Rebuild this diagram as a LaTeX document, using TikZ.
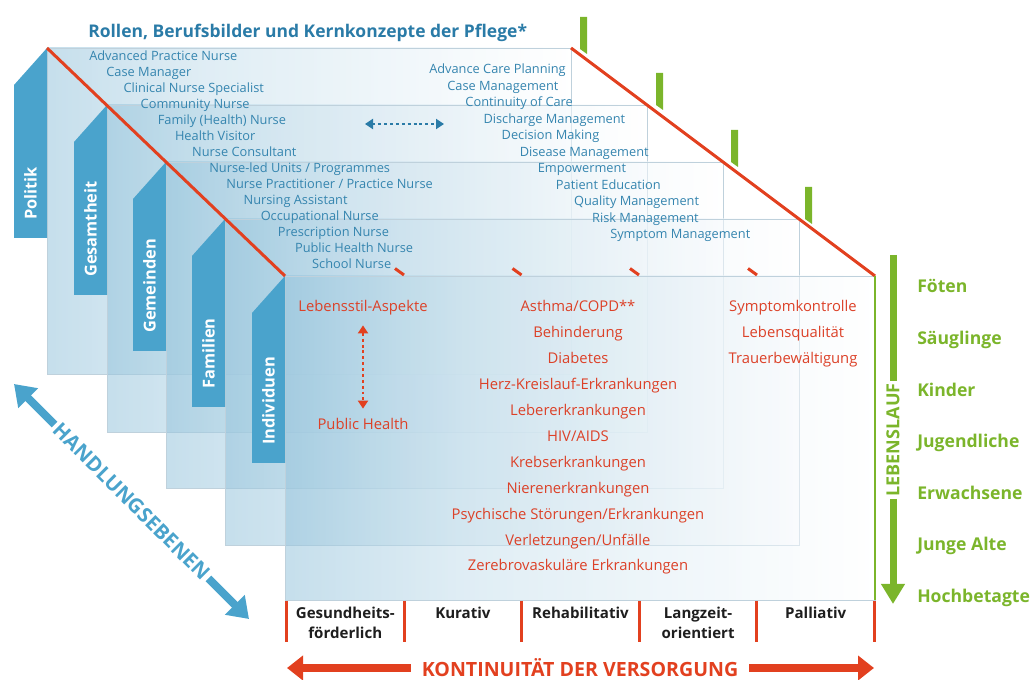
\documentclass[tikz,border=0pt]{standalone}
\usepackage{fontspec}
\setmainfont{Open Sans}
\usetikzlibrary{arrows.meta}
\definecolor{tabblue}{HTML}{4AA3CC}
\definecolor{listblue}{HTML}{3585AF}
\definecolor{titleblue}{HTML}{2A7BA7}
\definecolor{linered}{HTML}{E2401F}
\definecolor{textred}{HTML}{DC4128}
\definecolor{lifegreen}{HTML}{7BB52B}
\definecolor{panelblue}{HTML}{96C4DC}
\definecolor{paneledge}{HTML}{BFD1DC}
\definecolor{headblack}{HTML}{1E1E1E}
\pgfdeclarehorizontalshading{panelshade}{100bp}{color(0bp)=(panelblue); color(25bp)=(panelblue); color(40bp)=(panelblue!55!white); color(75bp)=(white); color(100bp)=(white)}
\tikzset{
  panelfill/.style={shading=panelshade, opacity=0.55},
  paneline/.style={draw=paneledge, line width=0.6pt},
  tablabel/.style={rotate=90, anchor=west, text=white, inner sep=0pt, font=\bfseries\fontsize{12.3}{14}\selectfont},
  listtxt/.style={anchor=west, text=listblue, inner sep=0pt, text height=1.45ex, text depth=0.35ex, font=\fontsize{9.6}{11}\selectfont},
  redtxt/.style={text=textred, inner sep=0pt, text height=1.45ex, text depth=0.35ex, font=\fontsize{11.1}{13}\selectfont},
  agetxt/.style={anchor=west, text=lifegreen, inner sep=0pt, text height=1.45ex, text depth=0.35ex, font=\bfseries\fontsize{13.2}{15}\selectfont},
  colhead/.style={anchor=north, align=center, text=headblack, inner sep=0pt, font=\bfseries\fontsize{11.3}{15}\selectfont},
  redline/.style={draw=linered, line width=2.25pt},
  dotarrow/.style={line width=2.2pt, dash pattern=on 2.2pt off 2.2pt, {Triangle[length=6pt,width=7.5pt]}-{Triangle[length=6pt,width=7.5pt]}},
}
\begin{document}
\begin{tikzpicture}[x=0.75pt,y=-0.75pt]
\useasboundingbox (0,0) rectangle (1033,680);

% stacked levels, back to front, each with its blue tab
\foreach \k/\L/\T/\R/\B/\tb/\name in {
  1/47/48/571/374/238/Politik,
  2/107/105/647/432/295/Gesamtheit,
  3/166/162/723/488/351/Gemeinden,
  4/225/219/799/545/407/Familien,
  5/285/276/875/600/463/Individuen}{
  \coordinate (p\k tl) at (\L,\T);
  \coordinate (p\k tr) at (\R,\T);
  \coordinate (p\k br) at (\R,\B);
  \shade[panelfill] (\L,\T) rectangle (\R,\B);
  \draw[paneline] (\L,\T) rectangle (\R,\B);
  \fill[tabblue] (\L-33,\T+37) -- (\L,\T) -- (\L,\tb) -- (\L-33,\tb) -- cycle;
  \node[tablabel] (level\k) at (\L-16.5,\tb-18) {\name};
}

% perspective edges
\draw[redline] (p1tl) -- (p5tl);
\draw[redline] (p1tr) -- (p5tr);
\draw[lifegreen, line width=2pt] (p5tr) -- (p5br);

% green markers at the right corners
\foreach \x/\t in {583.5/17, 659.5/73, 734.5/130, 808.5/187}
  \fill[lifegreen] (\x-3.5,\t) -- (\x+3.5,\t) -- (\x+3.5,\t+37) -- (\x-3.5,\t+32) -- cycle;

% column markers on the front level
\foreach \x in {404,521.5,639,757}
  \draw[redline] (\x-9,268.5) -- (\x,275);

% title
\node[anchor=west, inner sep=0pt, text=titleblue, font=\bfseries\fontsize{13.1}{15}\selectfont] (title) at (88,33) {Rollen, Berufsbilder und Kernkonzepte der Pflege*};

% roles
\foreach \t [count=\i from 0] in {Advanced Practice Nurse, Case Manager, Clinical Nurse Specialist, Community Nurse, Family (Health) Nurse, Health Visitor, Nurse Consultant, Nurse-led Units / Programmes, Nurse Practitioner / Practice Nurse, Nursing Assistant, Occupational Nurse, Prescription Nurse, Public Health Nurse, School Nurse}
  \node[listtxt] (role\i) at (89+17.15*\i, 57+16*\i) {\t};

% core concepts
\foreach \t [count=\i from 0] in {Advance Care Planning, Case Management, Continuity of Care, Discharge Management, Decision Making, Disease Management, Empowerment, Patient Education, Quality Management, Risk Management, Symptom Management}
  \node[listtxt] (concept\i) at (429+18.1*\i, 70+16.5*\i) {\t};

\coordinate (dotL) at (365,124);
\coordinate (dotR) at (444,124);
\draw[dotarrow, titleblue] (dotL) -- (dotR);

% front level contents
\node[redtxt] (lifestyle) at (363,308) {Lebensstil-Aspekte};
\node[redtxt] (publichealth) at (363,426) {Public Health};
\draw[dotarrow, linered, shorten <=8pt, shorten >=8pt] (lifestyle) -- (publichealth);

\foreach \t [count=\i from 0] in {Asthma/COPD**, Behinderung, Diabetes, Herz-Kreislauf-Erkrankungen, Lebererkrankungen, HIV/AIDS, Krebserkrankungen, Nierenerkrankungen, Psychische Störungen/Erkrankungen, Verletzungen/Unfälle, Zerebrovaskuläre Erkrankungen}
  \node[redtxt] (disease\i) at (578, 308+25.9*\i) {\t};

\foreach \t [count=\i from 0] in {Symptomkontrolle, Lebensqualität, Trauerbewältigung}
  \node[redtxt] (palliative\i) at (793, 308+26*\i) {\t};

% care columns
\foreach \i in {0,...,5}
  \draw[redline] (286.5+117.6*\i,601) -- (286.5+117.6*\i,642);
\node[colhead] (col1) at (345.3,607) {Gesundheits-\\förderlich};
\node[colhead] (col2) at (462.9,607) {Kurativ};
\node[colhead] (col3) at (580.5,607) {Rehabilitativ};
\node[colhead] (col4) at (698.1,607) {Langzeit-\\orientiert};
\node[colhead] (col5) at (815.7,607) {Palliativ};

% continuity of care
\node[text=linered, inner xsep=8pt, inner ysep=0pt, font=\bfseries\fontsize{14.7}{17}\selectfont] (continuity) at (580,668) {KONTINUITÄT DER VERSORGUNG};
\coordinate (contL) at (287,668);
\coordinate (contR) at (874,668);
\draw[linered, line width=6.5pt, -{Triangle[length=12pt,width=18pt]}] (continuity) -- (contL);
\draw[linered, line width=6.5pt, -{Triangle[length=12pt,width=18pt]}] (continuity) -- (contR);

% life course
\node[rotate=90, text=lifegreen, inner xsep=1.5pt, inner ysep=0pt, font=\bfseries\fontsize{13.5}{15}\selectfont] (lifecourse) at (893,440) {LEBENSLAUF};
\coordinate (lifetop) at (893,255);
\coordinate (lifeend) at (893,604);
\draw[lifegreen, line width=5.25pt] (lifetop) -- (lifecourse);
\draw[lifegreen, line width=5.25pt, -{Triangle[length=15pt,width=17pt]}] (lifecourse) -- (lifeend);

\foreach \t [count=\i from 0] in {Föten, Säuglinge, Kinder, Jugendliche, Erwachsene, Junge Alte, Hochbetagte}
  \node[agetxt] (age\i) at (917, 289+51.6*\i) {\t};

% levels of action
\node[rotate=-45, text=tabblue, inner xsep=2pt, inner ysep=0pt, font=\bfseries\fontsize{15.3}{17}\selectfont] (levels) at (131.5,501.5) {HANDLUNGSEBENEN};
\coordinate (levelsTop) at (14,384);
\coordinate (levelsEnd) at (249,619);
\draw[tabblue, line width=6pt, -{Triangle[length=15pt,width=20pt]}] (levels) -- (levelsTop);
\draw[tabblue, line width=6pt, -{Triangle[length=15pt,width=20pt]}] (levels) -- (levelsEnd);
\end{tikzpicture}
\end{document}
